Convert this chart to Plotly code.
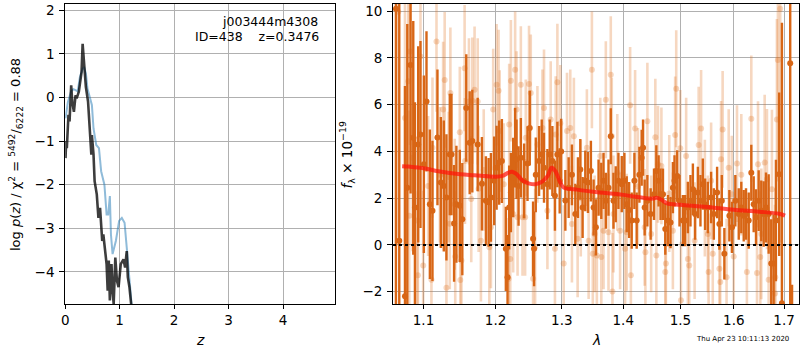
import plotly.graph_objects as go

# ---------------- left panel: log p(z) ----------------
z_chi = [0.006, 0.05, 0.11, 0.15, 0.19, 0.23, 0.27, 0.32, 0.35, 0.38, 0.41, 0.46, 0.49, 0.52,
         0.57, 0.62, 0.66, 0.72, 0.76, 0.79, 0.82, 0.84, 0.87, 0.93, 0.99, 1.04, 1.09, 1.13,
         1.16, 1.20, 1.23, 1.25]
logp_chi = [-0.48, -0.10, 0.14, 0.19, 0.17, 0.14, 0.47, 0.66, 0.68, 0.55, 0.20, -0.02, -0.17, -0.71,
            -1.09, -1.16, -1.69, -2.00, -2.68, -2.68, -2.26, -3.14, -3.59, -3.29, -2.83, -2.76, -2.87, -3.44,
            -3.90, -4.35, -4.81, -5.20]

z_pz = [0.006, 0.018, 0.03, 0.06, 0.08, 0.11, 0.13, 0.16, 0.19, 0.21, 0.25, 0.28, 0.30, 0.32, 0.34,
        0.36, 0.38, 0.42, 0.46, 0.48, 0.49, 0.52, 0.54, 0.58, 0.61, 0.64, 0.68, 0.70, 0.74, 0.76,
        0.78, 0.80, 0.82, 0.85, 0.87, 0.89, 0.92, 0.95, 0.98, 1.02, 1.07, 1.10, 1.13, 1.15, 1.18,
        1.21, 1.24]
logp_pz = [-1.39, -1.00, -1.16, -0.40, -0.55, 0.28, -0.10, -0.33, 0.05, -0.02, 0.13, 0.43, 0.58, 1.23, 0.81,
           0.66, 0.24, -0.10, -0.82, -1.31, -0.86, -1.31, -1.92, -2.22, -2.76, -2.53, -3.29, -3.14, -3.59, -3.82,
           -4.43, -3.74, -4.65, -3.82, -4.43, -4.73, -3.67, -4.20, -4.35, -3.82, -3.71, -3.90, -3.52, -4.12, -4.35,
           -4.73, -5.10]

# ---------------- right panel: spectrum ----------------
lam_light = [1.0670, 1.0757, 1.0800, 1.0813, 1.0822, 1.0856, 1.0917, 1.0926, 1.0960, 1.0996,
             1.1062, 1.1106, 1.1120, 1.1174, 1.1220, 1.1264, 1.1285, 1.1309, 1.1340, 1.1355,
             1.1363, 1.1423, 1.1430, 1.1493, 1.1500, 1.1516, 1.1560, 1.1565, 1.1621, 1.1653,
             1.1668, 1.1700, 1.1744, 1.1757, 1.1790, 1.1830, 1.1910, 1.1933, 1.1966, 1.2015,
             1.2044, 1.2060, 1.2120, 1.2190, 1.2199, 1.2215, 1.2224, 1.2258, 1.2287, 1.2308,
             1.2323, 1.2372, 1.2397, 1.2436, 1.2446, 1.2495, 1.2521, 1.2556, 1.2587, 1.2622,
             1.2699, 1.2723, 1.2775, 1.2826, 1.2892, 1.2904, 1.2930, 1.2976, 1.3029, 1.3081,
             1.3133, 1.3159, 1.3190, 1.3250, 1.3300, 1.3399, 1.3427, 1.3480, 1.3495, 1.3525,
             1.3561, 1.3617, 1.3634, 1.3671, 1.3709, 1.3753, 1.3791, 1.3808, 1.3819, 1.3836,
             1.3900, 1.3947, 1.4031, 1.4059, 1.4117, 1.4130, 1.4202, 1.4250, 1.4367, 1.4380,
             1.4414, 1.4480, 1.4553, 1.4571, 1.4600, 1.4660, 1.4729, 1.4740, 1.4800, 1.4865,
             1.4906, 1.4925, 1.4998, 1.5010, 1.5105, 1.5136, 1.5162, 1.5260, 1.5335, 1.5380,
             1.5450, 1.5505, 1.5520, 1.5567, 1.5598, 1.5723, 1.5740, 1.5755, 1.5785, 1.5860,
             1.5901, 1.5960, 1.5998, 1.6061, 1.6145, 1.6254, 1.6341, 1.6454, 1.6474, 1.6519,
             1.6540, 1.6607, 1.6653, 1.6687, 1.6753, 1.6815, 1.6820, 1.6854, 1.6874, 1.6921]
flux_light = [9.97, 5.43, 7.00, 1.25, 8.27, 3.73, 1.04, -1.30, 8.06, -0.88,
              2.52, -1.49, 4.16, 8.70, 3.00, 5.79, 7.06, -1.83, 2.90, 0.90,
              6.50, 1.74, -0.50, 4.82, -1.50, -0.67, 7.56, 3.59, 6.14, 1.96,
              6.17, 6.64, 6.14, 2.40, 0.18, 3.20, -0.10, 0.75, 5.79, 6.85,
              6.60, 4.87, 2.60, -1.45, 5.15, -0.60, 7.02, 1.32, 7.49, 5.79,
              1.18, 6.85, 1.18, 1.18, 4.58, 6.88, 6.50, -1.45, -0.10, 4.30,
              5.00, 5.86, 1.46, 5.36, -0.17, 4.72, 6.96, 5.20, -0.80, 4.87,
              5.00, 0.89, 4.65, 0.26, 2.00, 4.16, 0.18, 7.49, -0.38, 0.47,
              -0.45, 3.80, -0.52, 0.60, 6.21, 0.54, 7.28, 4.65, -1.99, 1.32,
              3.10, 0.60, -0.17, 0.54, 5.97, -1.30, 4.98, 2.50, 0.75, -0.31,
              5.29, 0.47, 4.61, -0.45, 3.45, 3.38, -1.16, -0.80, 2.20, 0.60,
              4.70, 6.68, 4.13, -2.37, 3.80, -0.60, -0.88, 0.18, 4.27, 4.98,
              2.00, 0.47, -1.16, 2.74, -0.38, -1.02, -1.59, 3.66, 4.94, -1.38,
              3.30, 2.17, -0.50, 3.48, 3.00, -1.16, 5.40, -1.20, 3.45, -0.52,
              0.47, 3.52, 2.81, -1.49, 2.38, -2.08, -1.38, 5.36, 7.91, 10.10]
err_light = [10.0, 5.5, 4.5, 4.5, 4.0, 4.0, 3.6, 3.6, 3.4, 3.2,
             3.0, 3.0, 3.0, 3.0, 2.9, 2.9, 2.9, 2.9, 2.8, 2.8,
             2.8, 2.8, 2.8, 2.8, 2.8, 2.8, 2.7, 2.7, 2.7, 2.7,
             2.7, 2.7, 2.7, 2.7, 2.6, 2.6, 2.6, 2.6, 2.6, 2.6,
             2.6, 2.6, 2.6, 2.6, 2.6, 2.6, 2.6, 2.5, 2.5, 2.5,
             2.5, 2.5, 2.5, 2.5, 2.5, 2.5, 2.5, 2.5, 2.5, 2.5,
             2.5, 2.5, 2.5, 2.5, 2.5, 2.5, 2.5, 2.5, 2.5, 2.5,
             2.5, 2.5, 2.5, 2.5, 2.5, 2.5, 2.5, 2.5, 2.5, 2.5,
             2.5, 2.5, 2.5, 2.5, 2.5, 2.5, 2.5, 2.5, 2.5, 2.5,
             2.5, 2.5, 2.5, 2.5, 2.5, 2.5, 2.5, 2.5, 2.5, 2.5,
             2.5, 2.5, 2.5, 2.5, 2.5, 2.5, 2.5, 2.5, 2.5, 2.5,
             2.5, 2.5, 2.5, 2.5, 2.5, 2.5, 2.5, 2.5, 2.5, 2.5,
             2.5, 2.5, 2.5, 2.5, 2.5, 2.5, 2.5, 2.5, 2.5, 2.5,
             2.5, 2.5, 2.5, 2.5, 2.6, 2.6, 2.7, 2.7, 2.7, 2.8,
             2.8, 2.9, 3.0, 3.1, 3.4, 3.8, 3.8, 4.3, 5.2, 10.0]

lam_dark = [1.0640, 1.0683, 1.0757, 1.0787, 1.0830, 1.0865, 1.0887, 1.0930, 1.0960, 1.1005,
            1.1040, 1.1085, 1.1120, 1.1187, 1.1233, 1.1273, 1.1309, 1.1355, 1.1378, 1.1414,
            1.1446, 1.1493, 1.1528, 1.1583, 1.1631, 1.1668, 1.1744, 1.1804, 1.1861, 1.1900,
            1.1933, 1.1980, 1.2015, 1.2053, 1.2092, 1.2150, 1.2175, 1.2199, 1.2224, 1.2258,
            1.2287, 1.2308, 1.2338, 1.2372, 1.2421, 1.2472, 1.2506, 1.2556, 1.2571, 1.2597,
            1.2647, 1.2688, 1.2723, 1.2775, 1.2811, 1.2852, 1.2892, 1.2930, 1.2966, 1.2990,
            1.3055, 1.3107, 1.3159, 1.3213, 1.3255, 1.3293, 1.3330, 1.3373, 1.3416, 1.3464,
            1.3508, 1.3545, 1.3589, 1.3634, 1.3671, 1.3709, 1.3753, 1.3791, 1.3836, 1.3874,
            1.3919, 1.3975, 1.4020, 1.4059, 1.4100, 1.4144, 1.4190, 1.4229, 1.4276, 1.4315,
            1.4339, 1.4367, 1.4414, 1.4471, 1.4530, 1.4571, 1.4611, 1.4646, 1.4688, 1.4729,
            1.4777, 1.4823, 1.4865, 1.4894, 1.4943, 1.4984, 1.5045, 1.5087, 1.5136, 1.5184,
            1.5228, 1.5270, 1.5320, 1.5368, 1.5412, 1.5455, 1.5505, 1.5567, 1.5618, 1.5680,
            1.5723, 1.5769, 1.5818, 1.5914, 1.5965, 1.6029, 1.6095, 1.6145, 1.6192, 1.6237,
            1.6290, 1.6341, 1.6388, 1.6434, 1.6487, 1.6539, 1.6587, 1.6633, 1.6687, 1.6739,
            1.6787, 1.6834, 1.6901, 1.6956, 1.7127, 1.7165]
flux_dark = [10.10, 0.18, -2.20, 2.45, 7.70, 4.58, 1.60, 4.30, 4.72, 3.45,
             6.14, 1.74, 1.46, 4.60, 2.67, 2.52, 2.03, 3.87, 3.87, 0.92,
             1.74, 1.67, 1.10, 5.86, 4.37, 4.44, 4.30, 2.62, 1.89, 1.82,
             2.03, 2.74, 3.30, 3.52, 3.59, -0.17, -1.38, 1.60, 2.24, 2.88,
             4.16, 3.66, 2.52, 3.73, 2.74, 3.48, 5.00, 0.26, -0.17, 3.00,
             3.59, 3.87, 3.30, 2.60, 3.87, 3.59, 2.10, 3.87, 2.74, 4.00,
             1.90, 2.45, 3.00, 1.32, 2.45, 3.23, 1.60, 2.74, 2.67, 3.16,
             1.60, 0.75, 2.45, 2.31, 2.74, 1.89, 2.45, 4.65, 1.89, 2.17,
             2.74, 2.60, 2.74, 1.74, 1.49, 1.04, 2.74, 1.04, 3.00, 3.73,
             4.16, 1.60, 1.89, 1.32, 2.17, 3.16, 2.74, 2.17, 2.17, 0.68,
             1.04, 0.96, 2.45, 2.74, 2.95, 1.89, 1.04, 1.04, 1.60, 1.89,
             2.38, 1.32, 2.24, 1.89, 2.60, 1.74, 1.60, 2.03, 1.32, 2.24,
             0.89, 1.89, -0.38, 1.25, 0.75, 1.89, 1.32, 1.60, 1.25, 1.32,
             1.04, 3.09, 1.74, 1.18, 1.89, 1.46, 1.32, 1.60, 1.32, -0.80,
             -0.80, 1.04, 3.02, -2.50, 7.77, -6.00]
err_dark = [14.0, 11.0, 9.0, 7.0, 5.5, 5.0, 4.5, 4.2, 4.0, 3.8,
            3.0, 3.2, 3.0, 2.9, 2.8, 2.8, 2.7, 2.6, 2.6, 2.5,
            2.5, 2.4, 2.4, 2.3, 2.2, 2.2, 2.0, 2.0, 1.9, 1.9,
            1.9, 1.9, 1.8, 1.8, 1.8, 1.8, 1.8, 1.8, 1.7, 1.7,
            1.7, 1.7, 1.7, 1.7, 1.6, 1.6, 1.6, 1.6, 1.6, 1.6,
            1.5, 1.5, 1.5, 1.5, 1.5, 1.5, 1.5, 1.4, 1.4, 1.4,
            1.3, 1.3, 1.3, 1.3, 1.3, 1.3, 1.3, 1.3, 1.3, 1.3,
            1.2, 1.2, 1.2, 1.2, 1.2, 1.2, 1.2, 1.2, 1.2, 1.2,
            1.2, 1.2, 1.2, 1.2, 1.2, 1.2, 1.2, 1.2, 1.2, 1.2,
            1.2, 1.2, 1.1, 1.1, 1.1, 1.1, 1.1, 1.1, 1.1, 1.1,
            1.1, 1.1, 1.1, 1.1, 1.1, 1.1, 1.1, 1.1, 1.1, 1.1,
            1.1, 1.1, 1.1, 1.1, 1.1, 1.1, 1.1, 1.1, 1.1, 1.1,
            1.1, 1.1, 1.1, 1.1, 1.1, 1.1, 1.1, 1.1, 1.1, 1.1,
            1.2, 1.2, 1.2, 1.2, 1.3, 1.3, 1.4, 1.5, 1.7, 1.9,
            2.1, 2.6, 3.5, 12.0, 12.0, 4.3]

lam_model = [1.072, 1.08, 1.10, 1.12, 1.15, 1.17, 1.20, 1.21, 1.218, 1.224, 1.23, 1.24, 1.25,
             1.26, 1.27, 1.278, 1.284, 1.29, 1.297, 1.303, 1.32, 1.35, 1.40, 1.45, 1.458,
             1.465, 1.476, 1.50, 1.55, 1.60, 1.65, 1.69, 1.702]
flux_model = [3.37, 3.35, 3.28, 3.15, 3.02, 2.98, 2.92, 2.95, 3.08, 3.13, 3.05, 2.75, 2.62,
              2.60, 2.72, 2.95, 3.30, 3.15, 2.70, 2.45, 2.38, 2.27, 2.14, 1.98, 2.02,
              1.95, 1.78, 1.72, 1.62, 1.50, 1.42, 1.33, 1.25]

lam_ticks = [1.1, 1.2, 1.3, 1.4, 1.5, 1.6, 1.7]
lam_ticktext = ["1.1", "1.2", "1.3", "1.4", "1.5", "1.6", "1.7"]

W, H = 800, 350
FONT = "DejaVu Sans"
DARK = "rgb(216,102,22)"
LIGHT = "rgba(224,112,30,0.28)"

fig = go.Figure()

fig.add_trace(go.Scatter(x=z_chi, y=logp_chi, mode="lines", xaxis="x", yaxis="y",
                         line=dict(color="rgba(31,119,180,0.5)", width=2), showlegend=False))
fig.add_trace(go.Scatter(x=z_pz, y=logp_pz, mode="lines", xaxis="x", yaxis="y",
                         line=dict(color="rgba(0,0,0,0.76)", width=2.6), showlegend=False))

fig.add_trace(go.Scatter(x=lam_light, y=flux_light, mode="markers", xaxis="x2", yaxis="y2",
                         marker=dict(color=LIGHT, size=6),
                         error_y=dict(type="data", array=err_light, color=LIGHT, thickness=2.6, width=0),
                         showlegend=False))
fig.add_trace(go.Scatter(x=lam_dark, y=flux_dark, mode="markers", xaxis="x2", yaxis="y2",
                         marker=dict(color=DARK, size=6),
                         error_y=dict(type="data", array=err_dark, color=DARK, thickness=2.4, width=0),
                         showlegend=False))
fig.add_trace(go.Scatter(x=lam_model, y=flux_model, mode="lines", xaxis="x2", yaxis="y2",
                         line=dict(color="rgba(255,20,10,0.72)", width=4, shape="spline"),
                         showlegend=False))

ax_common = dict(showline=True, mirror=True, linecolor="black", linewidth=1,
                 ticks="outside", tickcolor="black",
                 showgrid=True, gridcolor="#b0b0b0", gridwidth=1, zeroline=False,
                 tickfont=dict(family=FONT, size=13.5, color="black"))
x_common = dict(ticklen=4, **ax_common)
y_common = dict(ticklen=5, ticklabelstandoff=2, **ax_common)

fig.update_layout(
    width=W, height=H,
    margin=dict(l=0, r=0, t=0, b=0),
    paper_bgcolor="white", plot_bgcolor="white",
    font=dict(family=FONT, color="black"),
    xaxis=dict(domain=[61.5 / W, 332.5 / W], range=[0, 4.95], tickvals=[0, 1, 2, 3, 4],
               anchor="y", **x_common),
    yaxis=dict(domain=[1 - 304 / H, 1 - 1.7 / H], range=[-4.74, 2.15], tickvals=[-4, -3, -2, -1, 0, 1, 2],
               anchor="x", **y_common),
    xaxis2=dict(domain=[391 / W, 799 / W], type="log", range=[0.02543, 0.23829],
                tickvals=lam_ticks, ticktext=lam_ticktext, anchor="y2", **x_common),
    yaxis2=dict(domain=[1 - 304 / H, 1 - 1.7 / H], range=[-2.54, 10.32], tickvals=[-2, 0, 2, 4, 6, 8, 10],
                anchor="x2", **y_common),
    shapes=[dict(type="line", xref="x2 domain", yref="y2", x0=0, x1=1, y0=0, y1=0,
                 line=dict(color="black", width=2, dash="dot"))],
)

ann = [
    dict(text="j003444m4308", x=318 / W, y=1 - 20 / H, xanchor="right", yanchor="middle",
         font=dict(size=12.5)),
    dict(text="ID=438\u00a0\u00a0\u00a0\u00a0z=0.3476", x=319 / W, y=1 - 35 / H, xanchor="right",
         yanchor="middle", font=dict(size=12.5)),
    dict(text="log <i>p</i>(<i>z</i>) / χ<sup>2</sup> = <sup>5492</sup>/<sub>6222</sub> = 0.88",
         x=12 / W, y=1 - 153 / H, textangle=-90, xanchor="center", yanchor="middle",
         font=dict(size=13)),
    dict(text="<i>z</i>", x=197 / W, y=1 - 340 / H, xanchor="center", yanchor="middle",
         font=dict(size=14)),
    dict(text="<i>f</i><sub>λ</sub> × 10<sup>−19</sup>", x=345 / W, y=1 - 154 / H, textangle=-90,
         xanchor="center", yanchor="middle", font=dict(size=13.5)),
    dict(text="<i>λ</i>", x=595 / W, y=1 - 340 / H, xanchor="center", yanchor="middle",
         font=dict(size=14)),
    dict(text="Thu Apr 23 10:11:13 2020", x=742 / W, y=1 - 339 / H, xanchor="center",
         yanchor="middle", font=dict(size=7)),
]
for a in ann:
    a.update(xref="paper", yref="paper", showarrow=False)
fig.update_layout(annotations=ann)

fig.write_html("out.html", config={"displayModeBar": False},
               post_script="document.body.style.margin='0px';document.body.style.overflow='hidden';")
